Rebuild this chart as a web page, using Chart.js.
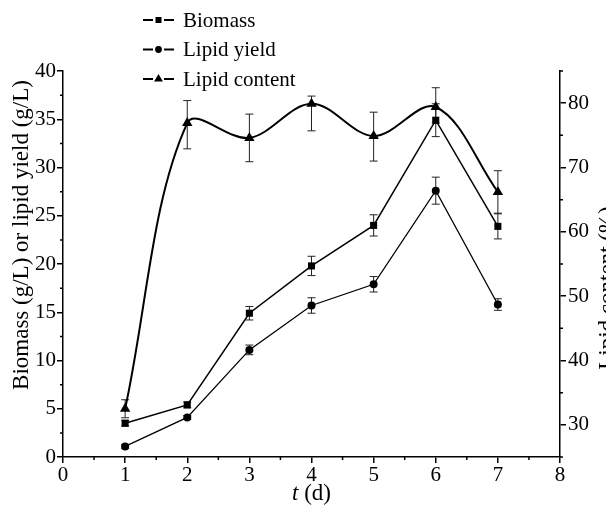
<!DOCTYPE html>
<html><head><meta charset="utf-8">
<script src="https://cdn.jsdelivr.net/npm/chart.js@4/dist/chart.umd.min.js"></script>
<style>html,body{margin:0;padding:0;background:#fff;}canvas{display:block;}</style>
</head><body>
<canvas id="c" width="606" height="514"></canvas>
<script>
// ---- data ----
const days = [1, 2, 3, 4, 5, 6, 7];
const biomass = [3.5, 5.4, 14.9, 19.8, 24.0, 34.9, 23.9];
const biomassErr = [0.3, 0.3, 0.7, 1.0, 1.1, 1.7, 1.3];
const lipidYield = [1.1, 4.1, 11.1, 15.7, 17.9, 27.6, 15.8];
const lipidYieldErr = [0.2, 0.2, 0.5, 0.8, 0.8, 1.4, 0.6];
const lipidContent = [32.5, 76.9, 74.6, 79.9, 74.9, 79.4, 66.2];
const lipidContentErrUp = [1.4, 3.5, 3.7, 1.2, 3.7, 3.0, 3.3];
const lipidContentErrDown = [1.4, 4.0, 3.7, 4.2, 3.9, 2.5, 3.3];
const xTicks = [0, 1, 2, 3, 4, 5, 6, 7, 8];
const xMinorTicks = [0.5, 1.5, 2.5, 3.5, 4.5, 5.5, 6.5, 7.5];
const yLeftTicks = [0, 5, 10, 15, 20, 25, 30, 35, 40];
const yLeftMinorTicks = [2.5, 7.5, 12.5, 17.5, 22.5, 27.5, 32.5, 37.5];
const yRightTicks = [30, 40, 50, 60, 70, 80];
const yRightMinorTicks = [25, 35, 45, 55, 65, 75, 85];
const seriesLabels = ['Biomass', 'Lipid yield', 'Lipid content'];
const leftTitle = 'Biomass (g/L) or lipid yield (g/L)';
const rightTitle = 'Lipid content (%)';
const xTitleItalic = 't';
const xTitleRest = ' (d)';

const FONT = '"Liberation Serif", "Times New Roman", serif';
const pts = vals => days.map((d, i) => ({ x: d, y: vals[i] }));

function drawMarker(ctx, style, x, y, r) {
  ctx.beginPath();
  if (style === 'rect') {
    const s = r * Math.SQRT1_2;
    ctx.rect(x - s, y - s, 2 * s, 2 * s);
  } else if (style === 'circle') {
    ctx.arc(x, y, r, 0, Math.PI * 2);
  } else {
    ctx.moveTo(x, y - r);
    ctx.lineTo(x + 0.866 * r, y + 0.5 * r);
    ctx.lineTo(x - 0.866 * r, y + 0.5 * r);
    ctx.closePath();
  }
  ctx.fill();
}

const errorBars = {
  id: 'errorBars',
  beforeDatasetsDraw(chart) {
    const ctx = chart.ctx, xs = chart.scales.x;
    chart.data.datasets.forEach(ds => {
      const ys = chart.scales[ds.yAxisID];
      ctx.save();
      ctx.strokeStyle = '#222';
      ctx.lineWidth = 1;
      ds.data.forEach((p, i) => {
        const x = xs.getPixelForValue(p.x);
        const y1 = ys.getPixelForValue(p.y + ds.errUp[i]);
        const y2 = ys.getPixelForValue(p.y - ds.errDown[i]);
        ctx.beginPath();
        ctx.moveTo(x, y1); ctx.lineTo(x, y2);
        ctx.moveTo(x - 4, y1); ctx.lineTo(x + 4, y1);
        ctx.moveTo(x - 4, y2); ctx.lineTo(x + 4, y2);
        ctx.stroke();
      });
      ctx.restore();
    });
  }
};

const decorations = {
  id: 'decorations',
  afterDraw(chart) {
    const ctx = chart.ctx;
    const { x: xs, y: yl, y2: yr } = chart.scales;
    const area = chart.chartArea;
    ctx.save();
    ctx.strokeStyle = '#000';
    ctx.lineWidth = 1.5;
    // minor ticks
    ctx.beginPath();
    xMinorTicks.forEach(v => { const px = xs.getPixelForValue(v); ctx.moveTo(px, area.bottom); ctx.lineTo(px, area.bottom + 3); });
    yLeftMinorTicks.forEach(v => { const py = yl.getPixelForValue(v); ctx.moveTo(area.left, py); ctx.lineTo(area.left - 3, py); });
    yRightMinorTicks.forEach(v => { const py = yr.getPixelForValue(v); ctx.moveTo(area.right, py); ctx.lineTo(area.right + 3, py); });
    ctx.stroke();

    ctx.fillStyle = '#000';
    // left title
    ctx.font = '23px ' + FONT;
    ctx.textAlign = 'center';
    ctx.textBaseline = 'alphabetic';
    ctx.save();
    ctx.translate(28, 235);
    ctx.rotate(-Math.PI / 2);
    ctx.fillText(leftTitle, 0, 0);
    ctx.restore();
    // right title (partly outside the canvas, as in the reference)
    ctx.save();
    ctx.translate(614, 288);
    ctx.rotate(-Math.PI / 2);
    ctx.fillText(rightTitle, 0, 0);
    ctx.restore();
    // x title
    ctx.textAlign = 'left';
    ctx.font = 'italic 23px ' + FONT;
    const wI = ctx.measureText(xTitleItalic).width;
    ctx.font = '23px ' + FONT;
    const wR = ctx.measureText(xTitleRest).width;
    const cx = (area.left + area.right) / 2;
    const x0 = cx - (wI + wR) / 2;
    ctx.font = 'italic 23px ' + FONT;
    ctx.fillText(xTitleItalic, x0, 500);
    ctx.font = '23px ' + FONT;
    ctx.fillText(xTitleRest, x0 + wI, 500);

    // legend
    ctx.font = '21px ' + FONT;
    ctx.textBaseline = 'middle';
    chart.data.datasets.forEach((ds, i) => {
      const y = 20 + i * 29.5;
      ctx.lineWidth = 2.2;
      ctx.beginPath();
      ctx.moveTo(143, y); ctx.lineTo(153, y);
      ctx.moveTo(164, y); ctx.lineTo(174, y);
      ctx.stroke();
      drawMarker(ctx, ds.pointStyle, 158.5, y, ds.pointRadius * 0.85);
      ctx.fillText(ds.label, 183, y + 1);
    });
    ctx.restore();
  }
};

const tickFont = { family: FONT, size: 21 };

new Chart(document.getElementById('c'), {
  type: 'line',
  data: {
    datasets: [
      {
        label: seriesLabels[0], data: pts(biomass), yAxisID: 'y',
        errUp: biomassErr, errDown: biomassErr,
        borderColor: '#000', backgroundColor: '#000', borderWidth: 1.5,
        pointStyle: 'rect', pointRadius: 5, pointBorderWidth: 0, tension: 0
      },
      {
        label: seriesLabels[1], data: pts(lipidYield), yAxisID: 'y',
        errUp: lipidYieldErr, errDown: lipidYieldErr,
        borderColor: '#000', backgroundColor: '#000', borderWidth: 1.3,
        pointStyle: 'circle', pointRadius: 4, pointBorderWidth: 0, tension: 0
      },
      {
        label: seriesLabels[2], data: pts(lipidContent), yAxisID: 'y2',
        errUp: lipidContentErrUp, errDown: lipidContentErrDown,
        borderColor: '#000', backgroundColor: '#000', borderWidth: 2,
        pointStyle: 'triangle', pointRadius: 6, pointBorderWidth: 0, tension: 0.35
      }
    ]
  },
  options: {
    responsive: false,
    devicePixelRatio: 1,
    animation: false,
    layout: { padding: { top: 71, left: 0, right: 0, bottom: 0 } },
    plugins: { legend: { display: false }, tooltip: { enabled: false } },
    scales: {
      x: {
        type: 'linear', min: 0, max: 8,
        afterBuildTicks: s => { s.ticks = xTicks.map(v => ({ value: v })); },
        afterFit: s => { s.height = 57; },
        grid: { drawOnChartArea: false, drawTicks: true, tickLength: 6, color: '#000', lineWidth: 1.5 },
        border: { display: true, color: '#000', width: 1.5 },
        ticks: { color: '#000', font: tickFont, padding: 0, maxRotation: 0 }
      },
      y: {
        type: 'linear', position: 'left', min: 0, max: 40,
        afterBuildTicks: s => { s.ticks = yLeftTicks.map(v => ({ value: v })); },
        afterFit: s => { s.width = 63; },
        grid: { drawOnChartArea: false, drawTicks: true, tickLength: 6, color: '#000', lineWidth: 1.5 },
        border: { display: true, color: '#000', width: 1.5 },
        ticks: { color: '#000', font: tickFont, padding: 1 }
      },
      y2: {
        type: 'linear', position: 'right', min: 25, max: 85,
        afterBuildTicks: s => { s.ticks = yRightTicks.map(v => ({ value: v })); },
        afterFit: s => { s.width = 46; },
        grid: { drawOnChartArea: false, drawTicks: true, tickLength: 6, color: '#000', lineWidth: 1.5 },
        border: { display: true, color: '#000', width: 1.5 },
        ticks: { color: '#000', font: tickFont, padding: 2 }
      }
    }
  },
  plugins: [errorBars, decorations]
});
</script>
</body></html>
